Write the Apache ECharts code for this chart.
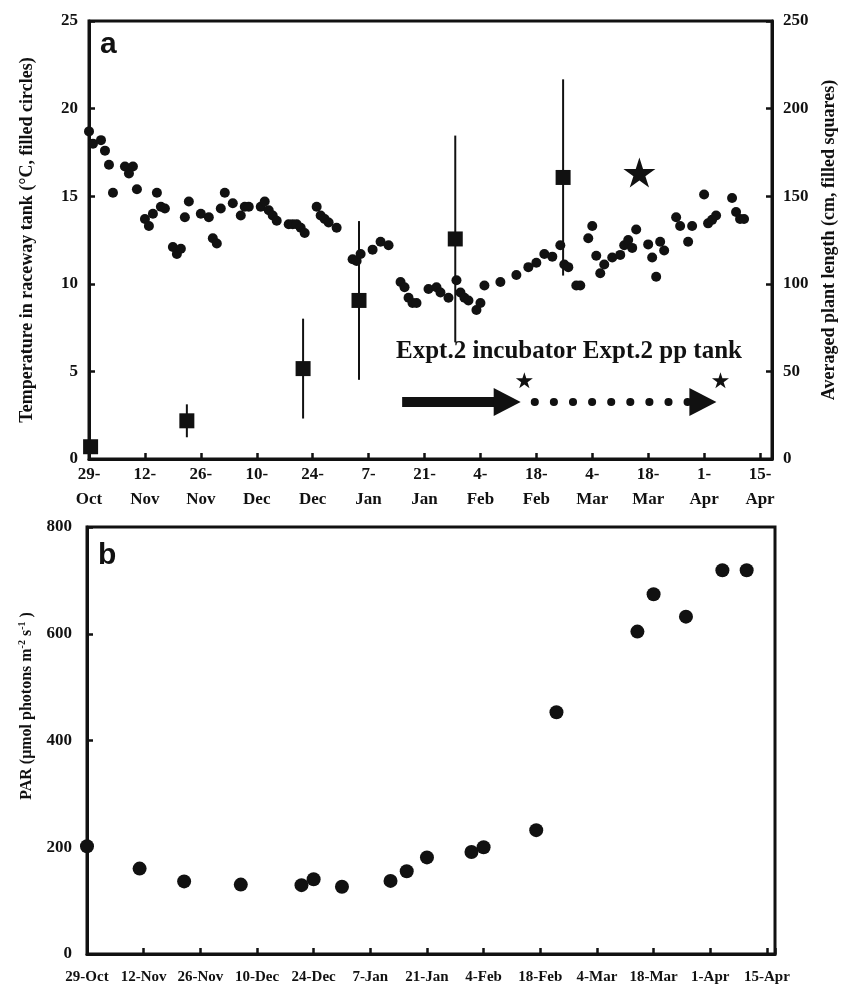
<!DOCTYPE html>
<html>
<head>
<meta charset="utf-8">
<script src="https://cdn.jsdelivr.net/npm/echarts@6/dist/echarts.min.js"></script>
<style>
html,body{margin:0;padding:0;background:#fff;}
#main{width:851px;height:985px;}
</style>
</head>
<body>
<div id="main"></div>
<script>
// x values are days counted from 29-Oct
var tickLabels = ['29-Oct','12-Nov','26-Nov','10-Dec','24-Dec','7-Jan','21-Jan','4-Feb','18-Feb','4-Mar','18-Mar','1-Apr','15-Apr'];

// raceway tank temperature (filled circles)
var tempDays = [0,1,3,4,5,6,9,10,11,12,14,15,16,17,18,19,21,22,23,24,25,28,30,31,32,33,34,36,38,39,40,43,44,45,46,47,50,51,52,53,54,57,58,59,60,62,66,67,68,71,73,75,78,79,80,81,82,85,87,88,90,92,93,94,95,97,98,99,103,107,110,112,114,116,118,119,120,122,123,125,126,127,128,129,131,133,134,135,136,137,140,141,142,143,144,147,148,150,151,154,155,156,157,161,162,163,164];
var tempValues = [18.7,18.0,18.2,17.6,16.8,15.2,16.7,16.3,16.7,15.4,13.7,13.3,14.0,15.2,14.4,14.3,12.1,11.7,12.0,13.8,14.7,14.0,13.8,12.6,12.3,14.3,15.2,14.6,13.9,14.4,14.4,14.4,14.7,14.2,13.9,13.6,13.4,13.4,13.4,13.2,12.9,14.4,13.9,13.7,13.5,13.2,11.4,11.3,11.7,11.95,12.4,12.2,10.1,9.8,9.2,8.9,8.9,9.7,9.8,9.5,9.2,10.2,9.5,9.2,9.05,8.5,8.9,9.9,10.1,10.5,10.95,11.2,11.7,11.55,12.2,11.1,10.95,9.9,9.9,12.6,13.3,11.6,10.6,11.1,11.5,11.65,12.2,12.5,12.05,13.1,12.25,11.5,10.4,12.4,11.9,13.8,13.3,12.4,13.3,15.1,13.45,13.65,13.9,14.9,14.1,13.7,13.7];

// averaged plant length (filled squares) with SD
var lengthDays = [0.4, 24.5, 53.6, 67.6, 91.7, 118.7];
var lengthMeans = [7.0, 21.8, 51.6, 90.5, 125.6, 160.7];
var lengthSD = [0, 9.4, 28.5, 45.3, 59.0, 56.0];

// PAR, panel b
var parDays = [0, 13, 24, 38, 53, 56, 63, 75, 79, 84, 95, 98, 111, 116, 136, 140, 148, 157, 163];
var parValues = [202, 160, 136, 130, 129, 140, 126, 137, 155, 181, 191, 200, 232, 453, 604, 674, 632, 719, 719];

// annotations in panel a (day, temperature-axis value)
var bigStar = [[137.8, 16.35]];
var smallStars = [[109.0, 4.5], [158.1, 4.5]];
var solidArrow = [[78.4, 3.26], [104.7, 3.26]];
var dottedArrow = [[111.6, 3.26], [153.7, 3.26]];

var INK = '#111';
var SERIF = 'Liberation Serif';
var STAR = 'path://M50,0 L61,35 L98,35 L68,57 L79,91 L50,70 L21,91 L32,57 L2,35 L39,35 Z';

function dayLabel(v) {
    var i = v / 14;
    if (i !== Math.round(i) || !tickLabels[i]) return '';
    return tickLabels[i];
}

var labelStyle = {color: INK, fontFamily: SERIF, fontWeight: 'bold', fontSize: 17};
var lineStyle = {color: INK, width: 3};
var tickStyle = {inside: true, length: 6, lineStyle: {color: INK, width: 2.5}};
var markStyle = {color: INK, opacity: 1};

var chart = echarts.init(document.getElementById('main'));

var option = {
    animation: false,
    backgroundColor: '#fff',
    grid: [
        {left: 89, right: 79, top: 21, height: 438, show: true, borderColor: INK, borderWidth: 3},
        {left: 87, right: 76, top: 527, height: 427, show: true, borderColor: INK, borderWidth: 3}
    ],
    xAxis: [
        {
            type: 'value', gridIndex: 0, min: 0, max: 171, interval: 14,
            axisLine: {lineStyle: lineStyle}, axisTick: tickStyle, splitLine: {show: false},
            axisLabel: Object.assign({}, labelStyle, {
                margin: 3, lineHeight: 25,
                formatter: function (v) { return dayLabel(v).replace('-', '-\n'); }
            })
        },
        {
            type: 'value', gridIndex: 1, min: 0, max: 170, interval: 14,
            axisLine: {lineStyle: lineStyle}, axisTick: tickStyle, splitLine: {show: false},
            axisLabel: Object.assign({}, labelStyle, {fontSize: 15, margin: 16, formatter: dayLabel})
        }
    ],
    yAxis: [
        {
            type: 'value', gridIndex: 0, min: 0, max: 25, interval: 5,
            name: 'Temperature in raceway tank (°C, filled circles)',
            nameLocation: 'middle', nameGap: 53,
            nameTextStyle: {color: INK, fontFamily: SERIF, fontWeight: 'bold', fontSize: 18},
            axisLine: {lineStyle: lineStyle}, axisTick: tickStyle, splitLine: {show: false},
            axisLabel: Object.assign({}, labelStyle, {margin: 11})
        },
        {
            type: 'value', gridIndex: 0, position: 'right', min: 0, max: 250, interval: 50,
            name: 'Averaged plant length (cm, filled squares)',
            nameLocation: 'middle', nameGap: 48, nameRotate: 90,
            nameTextStyle: {color: INK, fontFamily: SERIF, fontWeight: 'bold', fontSize: 18},
            axisLine: {show: true, lineStyle: lineStyle}, axisTick: tickStyle, splitLine: {show: false},
            axisLabel: Object.assign({}, labelStyle, {margin: 11})
        },
        {
            type: 'value', gridIndex: 1, min: 0, max: 800, interval: 200,
            axisLine: {lineStyle: lineStyle}, axisTick: tickStyle, splitLine: {show: false},
            axisLabel: Object.assign({}, labelStyle, {margin: 15})
        }
    ],
    series: [
        {
            name: 'SD', type: 'custom', coordinateSystem: 'cartesian2d',
            xAxisIndex: 0, yAxisIndex: 1, z: 1,
            encode: {x: 0, y: [1, 2]},
            data: lengthDays.map(function (d, i) {
                return [d, lengthMeans[i] - lengthSD[i], lengthMeans[i] + lengthSD[i]];
            }),
            renderItem: function (params, api) {
                var lo = api.coord([api.value(0), api.value(1)]);
                var hi = api.coord([api.value(0), api.value(2)]);
                return {
                    type: 'line',
                    shape: {x1: lo[0], y1: lo[1], x2: hi[0], y2: hi[1]},
                    style: {stroke: INK, lineWidth: 2}
                };
            }
        },
        {
            name: 'Temperature', type: 'scatter', xAxisIndex: 0, yAxisIndex: 0,
            symbol: 'circle', symbolSize: 10, itemStyle: markStyle, z: 3,
            data: tempDays.map(function (d, i) { return [d, tempValues[i]]; }),
            markLine: {
                silent: true, animation: false,
                symbol: ['none', 'triangle'], symbolSize: [28, 27],
                label: {show: false},
                data: [
                    [{coord: solidArrow[0], lineStyle: {color: INK, width: 10, type: 'solid'}, itemStyle: markStyle},
                     {coord: solidArrow[1]}],
                    [{coord: dottedArrow[0], lineStyle: {color: INK, width: 8, type: [0.1, 19], cap: 'round'}, itemStyle: markStyle},
                     {coord: dottedArrow[1]}]
                ]
            }
        },
        {
            name: 'Plant length', type: 'scatter', xAxisIndex: 0, yAxisIndex: 1,
            symbol: 'rect', symbolSize: 15, itemStyle: markStyle, z: 4,
            data: lengthDays.map(function (d, i) { return [d, lengthMeans[i]]; })
        },
        {
            name: 'Big star', type: 'scatter', xAxisIndex: 0, yAxisIndex: 0,
            symbol: STAR, symbolSize: [32, 30], itemStyle: markStyle,
            data: bigStar
        },
        {
            name: 'Small stars', type: 'scatter', xAxisIndex: 0, yAxisIndex: 0,
            symbol: STAR, symbolSize: [17, 16], itemStyle: markStyle,
            data: smallStars
        },
        {
            name: 'PAR', type: 'scatter', xAxisIndex: 1, yAxisIndex: 2,
            symbol: 'circle', symbolSize: 14, itemStyle: markStyle,
            data: parDays.map(function (d, i) { return [d, parValues[i]]; })
        }
    ],
    graphic: [
        {type: 'text', left: 100, top: 30, style: {text: 'a', fill: INK, font: 'bold 30px "Liberation Sans"'}},
        {type: 'text', left: 98, top: 541, style: {text: 'b', fill: INK, font: 'bold 30px "Liberation Sans"'}},
        {
            type: 'text', x: 569, y: 352,
            style: {
                text: 'Expt.2 incubator Expt.2 pp tank', fill: INK,
                font: 'bold 25px "Liberation Serif"', align: 'center', verticalAlign: 'middle'
            }
        },
        {
            type: 'text', x: 27, y: 706, rotation: Math.PI / 2,
            style: {
                text: '{n|PAR (μmol photons m}{s|-2}{n| s}{s|-1}{n| )}',
                align: 'center', verticalAlign: 'middle',
                rich: {
                    n: {fill: INK, fontFamily: SERIF, fontWeight: 'bold', fontSize: 16, lineHeight: 20},
                    s: {fill: INK, fontFamily: SERIF, fontWeight: 'bold', fontSize: 10, lineHeight: 20, verticalAlign: 'top'}
                }
            }
        }
    ]
};

chart.setOption(option);
</script>
</body>
</html>
